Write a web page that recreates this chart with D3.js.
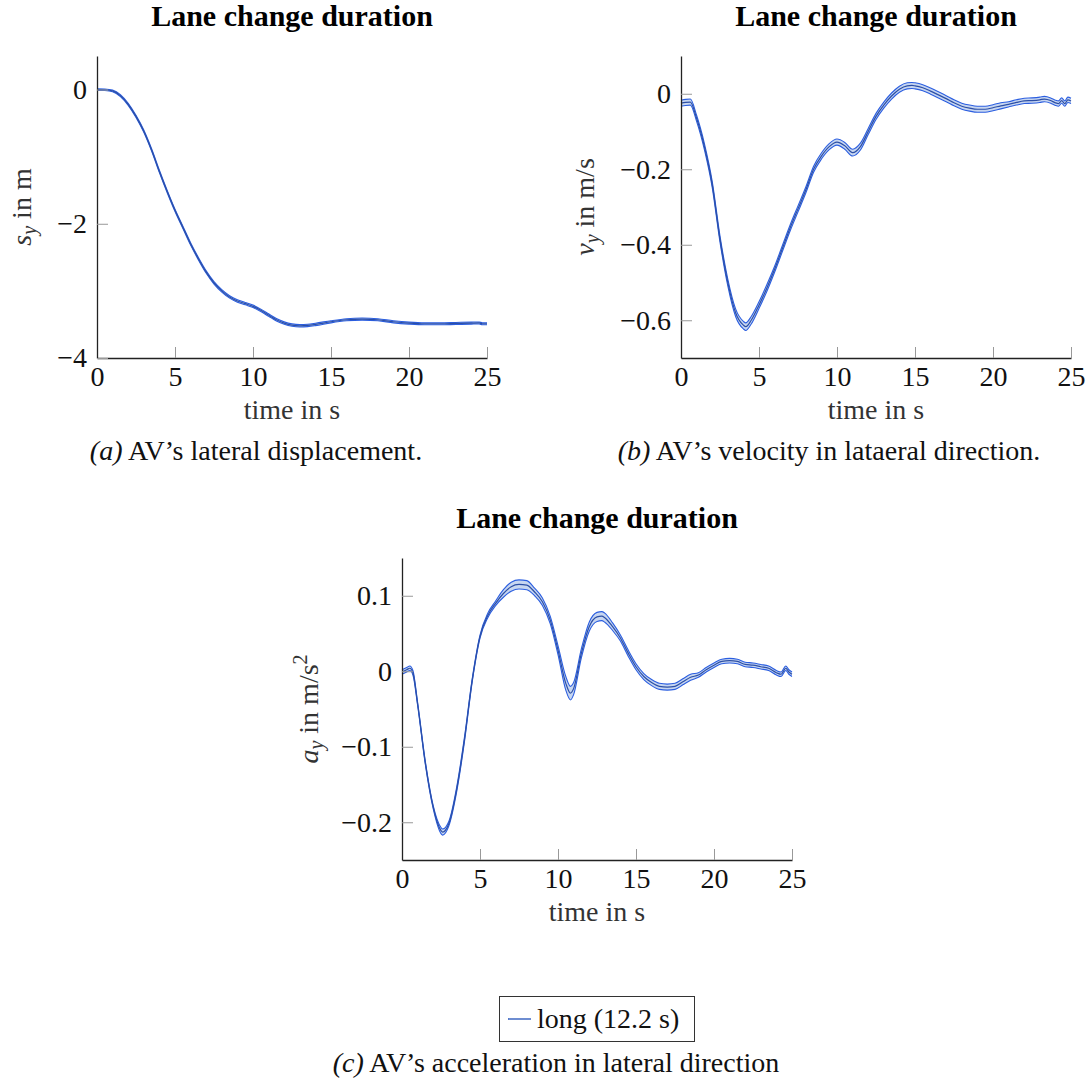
<!DOCTYPE html>
<html><head><meta charset="utf-8">
<script src="https://cdn.jsdelivr.net/npm/d3@7"></script>
<style>
body{margin:0;background:#fff;}
svg text{font-family:"Liberation Serif","Times New Roman",serif;}
</style></head><body>
<svg id="chart" width="1090" height="1083"></svg>
<script>
// ---------- data ----------
const titleText = "Lane change duration";
const xTicks = [0, 5, 10, 15, 20, 25];

// (a) lateral displacement s_y
const timeA = [0,0.5,1,1.5,2,2.5,3,3.5,4,4.5,5,5.5,6,6.5,7,7.5,8,8.5,9,9.5,10,10.5,11,11.5,12,12.5,13,13.5,14,15,16,17,18,19,20,21,22,23,24,24.5,24.7,25];
const meanA = [0,-0.003,-0.02,-0.09,-0.22,-0.4,-0.62,-0.9,-1.22,-1.52,-1.8,-2.05,-2.3,-2.52,-2.72,-2.88,-3.0,-3.09,-3.15,-3.19,-3.23,-3.29,-3.36,-3.43,-3.48,-3.51,-3.52,-3.515,-3.5,-3.46,-3.43,-3.42,-3.43,-3.46,-3.48,-3.49,-3.49,-3.485,-3.48,-3.478,-3.49,-3.49];
const stdA = [0.012,0.012,0.012,0.014,0.015,0.016,0.017,0.018,0.018,0.018,0.018,0.018,0.018,0.018,0.018,0.018,0.018,0.018,0.018,0.018,0.018,0.018,0.018,0.018,0.018,0.018,0.018,0.018,0.018,0.016,0.016,0.016,0.016,0.016,0.015,0.015,0.015,0.015,0.015,0.015,0.015,0.015];
const yTicksA = [0, -2, -4];

// (b) lateral velocity v_y
const timeB = [0,0.3,0.6,1,1.5,2,2.5,3,3.5,4,4.15,4.5,5,5.5,6,6.5,7,7.5,8,8.5,9,9.5,10,10.5,11,11.5,12,12.5,13,13.5,14,14.5,14.8,15,15.5,16,16.5,17,17.5,18,18.5,19,19.5,20,20.5,21,21.5,22,22.5,23,23.3,23.7,24,24.2,24.4,24.6,24.8,25];
const meanB = [-0.025,-0.023,-0.022,-0.065,-0.14,-0.24,-0.385,-0.5,-0.58,-0.613,-0.617,-0.6,-0.56,-0.515,-0.465,-0.41,-0.355,-0.305,-0.255,-0.2,-0.165,-0.14,-0.128,-0.138,-0.156,-0.14,-0.1,-0.06,-0.03,-0.006,0.012,0.021,0.022,0.021,0.016,0.007,-0.003,-0.013,-0.024,-0.033,-0.038,-0.041,-0.041,-0.037,-0.032,-0.028,-0.023,-0.019,-0.018,-0.016,-0.014,-0.018,-0.024,-0.026,-0.018,-0.026,-0.016,-0.019];
const stdB = [0.008,0.008,0.008,0.008,0.008,0.008,0.008,0.009,0.01,0.01,0.01,0.01,0.009,0.009,0.008,0.008,0.008,0.008,0.008,0.008,0.008,0.008,0.008,0.009,0.009,0.009,0.008,0.008,0.008,0.008,0.008,0.008,0.008,0.008,0.008,0.008,0.008,0.008,0.008,0.008,0.008,0.008,0.008,0.008,0.008,0.007,0.007,0.007,0.007,0.007,0.007,0.007,0.007,0.007,0.007,0.007,0.007,0.007];
const yTicksB = [0, -0.2, -0.4, -0.6];

// (c) lateral acceleration a_y
const timeC = [0,0.3,0.5,0.7,1,1.5,2,2.5,2.6,3,3.5,4,4.5,5,5.5,6,6.5,7,7.5,8,8.5,9,9.5,10,10.5,10.8,11,11.5,12,12.5,12.8,13,13.5,14,14.5,15,15.5,16,16.5,17,17.5,18,18.5,19,19.5,20,20.5,21,21.5,22,22.5,23,23.5,24,24.3,24.6,24.8,25];
const meanC = [-0.001,0.002,0.004,-0.002,-0.043,-0.122,-0.180,-0.211,-0.213,-0.202,-0.157,-0.091,-0.012,0.046,0.074,0.090,0.103,0.112,0.115,0.114,0.105,0.092,0.068,0.028,-0.016,-0.029,-0.023,0.024,0.059,0.072,0.073,0.071,0.059,0.044,0.024,0.006,-0.007,-0.015,-0.020,-0.021,-0.020,-0.014,-0.008,-0.005,0.002,0.008,0.013,0.014,0.013,0.009,0.008,0.006,0.004,-0.002,-0.004,0.004,-0.001,-0.004];
const stdC = [0.003,0.003,0.003,0.003,0.002,0.002,0.002,0.004,0.004,0.003,0.003,0.003,0.002,0.002,0.003,0.003,0.005,0.006,0.006,0.006,0.005,0.005,0.005,0.006,0.009,0.009,0.008,0.006,0.006,0.006,0.006,0.006,0.005,0.004,0.004,0.004,0.004,0.004,0.004,0.004,0.004,0.004,0.004,0.003,0.003,0.003,0.003,0.003,0.003,0.003,0.003,0.003,0.003,0.003,0.003,0.003,0.003,0.003];
const yTicksC = [0.1, 0, -0.1, -0.2];

const legendLabel = "long (12.2 s)";

// ---------- drawing ----------
const svg = d3.select("#chart");
const FS = 28;
const edgeColor = "#2b5ee0", fillColor = "#c7d6f0", meanColor = "#2c4fa6";

function panel(cfg) {
  const x = d3.scaleLinear().domain([0, 25]).range([cfg.left, cfg.right]);
  const y = d3.scaleLinear().domain(cfg.yDomain).range([cfg.bottom, cfg.top]);
  const g = svg.append("g");
  const data = cfg.t.map((t, i) => ({t, m: cfg.mean[i], s: cfg.std[i]}));

  g.append("path").datum(data)
    .attr("d", d3.area().x(d => x(d.t)).y0(d => y(d.m - d.s)).y1(d => y(d.m + d.s)).curve(d3.curveMonotoneX))
    .attr("fill", fillColor).attr("stroke", "none");
  [1, -1].forEach(sgn => {
    g.append("path").datum(data)
      .attr("d", d3.line().x(d => x(d.t)).y(d => y(d.m + sgn * d.s)).curve(d3.curveMonotoneX))
      .attr("fill", "none").attr("stroke", edgeColor).attr("stroke-width", 1.1);
  });
  g.append("path").datum(data)
    .attr("d", d3.line().x(d => x(d.t)).y(d => y(d.m)).curve(d3.curveMonotoneX))
    .attr("fill", "none").attr("stroke", meanColor).attr("stroke-width", 1.2);

  const ax = g.append("g").attr("transform", `translate(0,${cfg.bottom})`)
    .call(d3.axisBottom(x).tickValues(xTicks).tickSize(-11).tickSizeOuter(0).tickPadding(9));
  const ay = g.append("g").attr("transform", `translate(${cfg.left},0)`)
    .call(d3.axisLeft(y).tickValues(cfg.yTicks).tickSize(-11).tickSizeOuter(0).tickPadding(10).tickFormat(cfg.fmt));
  [ax, ay].forEach(a => {
    a.select(".domain").attr("stroke", "#222").attr("stroke-width", 1.3);
    a.selectAll(".tick line").attr("stroke", "#999").attr("stroke-width", 1);
    a.selectAll(".tick text").attr("font-size", FS).attr("fill", "#111")
      .attr("font-family", '"Liberation Serif", serif');
  });
  ax.selectAll(".tick text").attr("dy", "0.68em");

  const cx = (cfg.left + cfg.right) / 2, cy = (cfg.top + cfg.bottom) / 2;
  g.append("text").attr("x", cx).attr("y", cfg.top - 30).attr("text-anchor", "middle")
    .attr("font-size", 30).attr("font-weight", "bold").attr("fill", "#000").text(titleText);
  g.append("text").attr("x", cx).attr("y", cfg.bottom + 61).attr("text-anchor", "middle")
    .attr("font-size", FS).attr("fill", "#333").text("time in s");
  const yl = g.append("text").attr("transform", `translate(${cfg.ylabX},${cy}) rotate(-90)`)
    .attr("text-anchor", "middle").attr("font-size", FS).attr("fill", "#333");
  yl.append("tspan").attr("font-style", "italic").text(cfg.sym);
  yl.append("tspan").attr("font-style", "italic").attr("font-size", 20).attr("dy", 5).text("y");
  yl.append("tspan").attr("dy", -5).text(" in " + cfg.unit);
  if (cfg.sup) yl.append("tspan").attr("font-size", 20).attr("dy", -11).text(cfg.sup);
  return {x, y};
}

const decFmt = d => d === 0 ? "0" : d3.format(".1f")(d);

panel({left: 97, right: 487, top: 56, bottom: 358, yDomain: [-4, 0.5], t: timeA, mean: meanA, std: stdA,
  yTicks: yTicksA, fmt: d3.format("d"), ylabX: 31, sym: "s", unit: "m"});
panel({left: 681, right: 1071, top: 56, bottom: 358, yDomain: [-0.7, 0.1], t: timeB, mean: meanB, std: stdB,
  yTicks: yTicksB, fmt: decFmt, ylabX: 594, sym: "v", unit: "m/s"});
panel({left: 402, right: 792, top: 558, bottom: 860, yDomain: [-0.25, 0.15], t: timeC, mean: meanC, std: stdC,
  yTicks: yTicksC, fmt: decFmt, ylabX: 318, sym: "a", unit: "m/s", sup: "2"});

function caption(x, y, tag, txt) {
  const t = svg.append("text").attr("x", x).attr("y", y).attr("text-anchor", "middle")
    .attr("font-size", FS).attr("fill", "#111");
  t.append("tspan").attr("font-style", "italic").text(tag);
  t.append("tspan").text(" " + txt);
}
caption(256, 460, "(a)", "AV’s lateral displacement.");
caption(829, 460, "(b)", "AV’s velocity in lataeral direction.");
caption(556, 1072, "(c)", "AV’s acceleration in lateral direction");

const lg = svg.append("g");
lg.append("rect").attr("x", 499.5).attr("y", 996.5).attr("width", 195).attr("height", 45)
  .attr("fill", "#fff").attr("stroke", "#333").attr("stroke-width", 1);
lg.append("line").attr("x1", 508).attr("x2", 531).attr("y1", 1019).attr("y2", 1019)
  .attr("stroke", "#1f4fb8").attr("stroke-width", 1.3);
lg.append("text").attr("x", 537).attr("y", 1028).attr("font-size", FS).attr("fill", "#111").text(legendLabel);
</script>
</body></html>
